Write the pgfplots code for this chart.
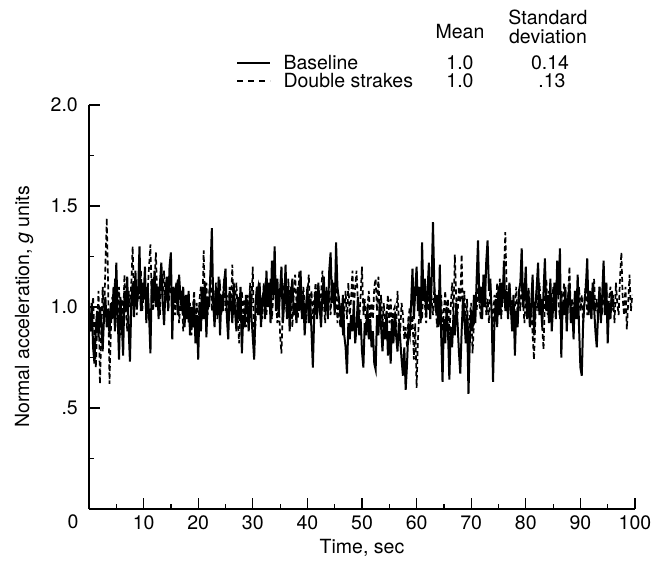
\documentclass[border=0pt]{standalone}
\usepackage{fontspec}
\setmainfont{TeX Gyre Heros}
\usepackage{pgfplots}
\pgfplotsset{compat=1.18}
\begin{document}
\begin{tikzpicture}[x=1pt,y=1pt,font=\fontsize{19.5}{22}\selectfont]
\useasboundingbox (0,0) rectangle (666,573);
\begin{axis}[
  at={(89pt,64pt)}, anchor=south west,
  scale only axis, width=546pt, height=404pt,
  xmin=0, xmax=100, ymin=0, ymax=2.0,
  axis x line*=bottom, axis y line*=left,
  axis line style={line width=1.4pt},
  tick align=inside,
  major tick length=11pt, minor tick length=5pt,
  every tick/.style={black, line width=1.2pt},
  xtick={10,20,...,100}, minor xtick={5,15,...,95},
  ytick={0.5,1,1.5,2}, yticklabels={.5,1.0,1.5,2.0},
  minor ytick={0.25,0.75,1.25,1.75},
  /pgf/number format/assume math mode=true,
  tick label style={font=\fontsize{19.5}{22}\selectfont},
  xticklabel style={anchor=north, inner sep=0pt, yshift=-6pt},
  yticklabel style={anchor=east, inner sep=0pt, xshift=-11pt},
  label style={font=\fontsize{19.5}{22}\selectfont},
  xlabel={Time, sec},
  ylabel={Normal acceleration, \textit{g} units},
  every axis x label/.style={at={(axis description cs:0.5,-0.0965)}, anchor=center},
  every axis y label/.style={at={(axis description cs:-0.119,0.5)}, anchor=center, rotate=90},
  clip=false,
]
% Double strakes (dashed)
\addplot[black, line width=1.7pt, dash pattern=on 5pt off 3pt] coordinates {
(0,1.02)(0.25,0.88)(0.5,0.96)(0.75,1.05)
(1,0.84)(1.25,0.70)(1.5,0.92)(1.75,1.08)
(2,0.62)(2.25,0.86)(2.5,1.10)(2.75,0.94)
(3,1.20)(3.25,1.44)(3.5,1.12)(3.75,0.62)
(4,0.88)(4.25,1.05)(4.5,0.96)(4.75,1.14)
(5,1.00)(5.25,0.90)(5.5,1.10)(5.75,0.86)
(6,1.04)(6.25,0.94)(6.5,1.16)(6.75,0.98)
(7,0.88)(7.25,1.08)(7.5,1.00)(7.75,1.12)
(8,1.30)(8.25,1.02)(8.5,1.14)(8.75,0.96)
(9,1.10)(9.25,1.04)(9.5,1.18)(9.75,0.98)
(10,1.06)(10.25,1.12)(10.5,0.94)(10.75,1.08)
(11,1.20)(11.25,1.31)(11.5,1.02)(11.75,0.98)
(12,1.12)(12.25,1.27)(12.5,1.04)(12.75,1.10)
(13,0.96)(13.25,1.14)(13.5,1.06)(13.75,1.18)
(14,1.02)(14.25,1.10)(14.5,0.98)(14.75,1.08)
(15,1.12)(15.25,1.00)(15.5,1.06)(15.75,0.96)
(16,1.04)(16.25,1.14)(16.5,0.92)(16.75,1.02)
(17,1.08)(17.25,0.88)(17.5,1.00)(17.75,0.94)
(18,1.06)(18.25,0.92)(18.5,1.02)(18.75,0.86)
(19,0.98)(19.25,1.08)(19.5,0.90)(19.75,1.02)
(20,0.84)(20.25,1.04)(20.5,1.10)(20.75,0.94)
(21,1.28)(21.25,1.02)(21.5,1.12)(21.75,0.96)
(22,1.06)(22.25,1.16)(22.5,0.98)(22.75,1.08)
(23,1.00)(23.25,1.12)(23.5,0.94)(23.75,1.06)
(24,1.10)(24.25,0.96)(24.5,1.04)(24.75,1.14)
(25,0.98)(25.25,1.06)(25.5,0.92)(25.75,1.10)
(26,1.00)(26.25,1.21)(26.5,0.96)(26.75,1.04)
(27,1.12)(27.25,0.94)(27.5,0.82)(27.75,1.02)
(28,1.08)(28.25,0.96)(28.5,1.04)(28.75,0.90)
(29,1.06)(29.25,0.94)(29.5,1.12)(29.75,1.00)
(30,1.20)(30.25,0.77)(30.5,0.92)(30.75,1.06)
(31,1.10)(31.25,0.98)(31.5,1.04)(31.75,0.94)
(32,1.12)(32.25,1.02)(32.5,0.96)(32.75,1.08)
(33,1.00)(33.25,1.14)(33.5,0.94)(33.75,1.06)
(34,1.10)(34.25,1.02)(34.5,0.92)(34.75,1.04)
(35,0.86)(35.25,0.77)(35.5,1.00)(35.75,1.12)
(36,1.04)(36.25,0.96)(36.5,1.14)(36.75,1.00)
(37,1.10)(37.25,0.90)(37.5,1.06)(37.75,1.16)
(38,1.02)(38.25,0.94)(38.5,1.18)(38.75,1.08)
(39,0.96)(39.25,1.10)(39.5,1.02)(39.75,0.92)
(40,1.06)(40.25,1.16)(40.5,0.98)(40.75,1.08)
(41,0.94)(41.25,1.04)(41.5,1.12)(41.75,1.00)
(42,1.10)(42.25,0.96)(42.5,1.06)(42.75,1.18)
(43,1.02)(43.25,0.92)(43.5,1.10)(43.75,1.00)
(44,1.08)(44.25,0.96)(44.5,1.14)(44.75,1.04)
(45,1.00)(45.25,1.10)(45.5,0.92)(45.75,1.06)
(46,0.90)(46.25,1.02)(46.5,0.86)(46.75,0.98)
(47,1.08)(47.25,0.94)(47.5,1.12)(47.75,0.96)
(48,1.04)(48.25,1.18)(48.5,0.98)(48.75,1.10)
(49,1.18)(49.25,1.02)(49.5,0.94)(49.75,1.06)
(50,1.20)(50.25,0.96)(50.5,1.04)(50.75,0.90)
(51,1.00)(51.25,1.08)(51.5,0.92)(51.75,1.02)
(52,0.94)(52.25,1.10)(52.5,1.14)(52.75,0.98)
(53,1.15)(53.25,0.96)(53.5,1.06)(53.75,0.90)
(54,1.02)(54.25,0.88)(54.5,0.96)(54.75,1.06)
(55,0.92)(55.25,1.04)(55.5,0.86)(55.75,0.98)
(56,1.00)(56.25,0.90)(56.5,1.08)(56.75,0.94)
(57,0.88)(57.25,1.02)(57.5,0.96)(57.75,0.84)
(58,0.90)(58.25,0.80)(58.5,0.94)(58.75,1.00)
(59,0.88)(59.25,0.96)(59.5,0.74)(59.75,0.92)
(60,0.60)(60.25,0.84)(60.5,0.98)(60.75,1.06)
(61,0.94)(61.25,1.10)(61.5,1.02)(61.75,0.92)
(62,1.08)(62.25,0.98)(62.5,1.14)(62.75,1.04)
(63,0.96)(63.25,1.10)(63.5,1.00)(63.75,0.90)
(64,1.02)(64.25,0.92)(64.5,1.06)(64.75,0.88)
(65,0.98)(65.25,1.08)(65.5,0.90)(65.75,1.04)
(66,0.86)(66.25,1.00)(66.5,1.12)(66.75,0.94)
(67,1.26)(67.25,1.04)(67.5,0.96)(67.75,1.10)
(68,1.02)(68.25,1.26)(68.5,0.94)(68.75,1.08)
(69,0.90)(69.25,1.04)(69.5,0.84)(69.75,0.96)
(70,1.02)(70.25,0.77)(70.5,0.92)(70.75,1.06)
(71,0.98)(71.25,1.10)(71.5,1.02)(71.75,0.94)
(72,1.08)(72.25,1.00)(72.5,1.16)(72.75,0.96)
(73,1.04)(73.25,0.92)(73.5,1.10)(73.75,1.00)
(74,0.90)(74.25,1.06)(74.5,0.96)(74.75,1.12)
(75,1.02)(75.25,1.14)(75.5,0.94)(75.75,1.06)
(76,1.16)(76.25,1.37)(76.5,1.08)(76.75,0.98)
(77,1.12)(77.25,0.96)(77.5,1.04)(77.75,0.90)
(78,1.00)(78.25,1.10)(78.5,0.94)(78.75,1.06)
(79,0.98)(79.25,1.12)(79.5,1.02)(79.75,0.92)
(80,1.06)(80.25,0.96)(80.5,1.10)(80.75,0.90)
(81,1.00)(81.25,0.86)(81.5,0.74)(81.75,0.94)
(82,1.08)(82.25,0.98)(82.5,1.12)(82.75,1.02)
(83,0.90)(83.25,0.79)(83.5,1.04)(83.75,1.14)
(84,0.96)(84.25,1.08)(84.5,1.00)(84.75,0.92)
(85,1.10)(85.25,0.98)(85.5,1.06)(85.75,1.16)
(86,1.02)(86.25,0.94)(86.5,1.08)(86.75,0.98)
(87,1.12)(87.25,1.00)(87.5,0.92)(87.75,1.06)
(88,1.20)(88.25,0.96)(88.5,1.04)(88.75,0.90)
(89,1.08)(89.25,1.00)(89.5,0.94)(89.75,1.10)
(90,0.98)(90.25,1.06)(90.5,0.92)(90.75,1.04)
(91,1.12)(91.25,0.96)(91.5,1.08)(91.75,1.00)
(92,0.94)(92.25,1.06)(92.5,1.14)(92.75,0.98)
(93,1.04)(93.25,0.92)(93.5,1.10)(93.75,1.02)
(94,0.96)(94.25,1.08)(94.5,1.00)(94.75,1.12)
(95,0.94)(95.25,1.04)(95.5,1.10)(95.75,0.98)
(96,1.06)(96.25,0.92)(96.5,1.12)(96.75,1.02)
(97,0.96)(97.25,1.14)(97.5,1.27)(97.75,1.04)
(98,0.96)(98.25,1.10)(98.5,0.89)(98.75,1.02)
(99,1.16)(99.25,0.98)(99.5,1.06)
};
% Baseline (solid)
\addplot[black, line width=2pt] coordinates {
(0,0.95)(0.25,0.88)(0.5,1.02)(0.75,0.80)
(1,0.72)(1.25,0.90)(1.5,0.98)(1.75,0.85)
(2,1.00)(2.25,0.92)(2.5,0.78)(2.75,0.95)
(3,1.05)(3.25,0.90)(3.5,0.99)(3.75,0.86)
(4,1.02)(4.25,0.94)(4.5,1.10)(4.75,0.88)
(5,1.22)(5.25,0.96)(5.5,0.74)(5.75,1.05)
(6,0.92)(6.25,0.76)(6.5,1.08)(6.75,0.98)
(7,1.15)(7.25,0.90)(7.5,0.73)(7.75,1.02)
(8,1.12)(8.25,0.95)(8.5,1.18)(8.75,1.00)
(9,1.08)(9.25,1.30)(9.5,0.98)(9.75,1.12)
(10,1.04)(10.25,1.20)(10.5,0.92)(10.75,1.10)
(11,0.96)(11.25,0.77)(11.5,1.14)(11.75,1.02)
(12,1.18)(12.25,1.00)(12.5,1.10)(12.75,0.94)
(13,1.12)(13.25,1.22)(13.5,1.03)(13.75,0.91)
(14,1.08)(14.25,1.15)(14.5,0.98)(14.75,1.20)
(15,1.27)(15.25,0.84)(15.5,1.10)(15.75,1.02)
(16,1.12)(16.25,0.96)(16.5,1.16)(16.75,1.05)
(17,0.98)(17.25,1.10)(17.5,0.90)(17.75,1.06)
(18,0.94)(18.25,1.08)(18.5,0.86)(18.75,1.00)
(19,0.90)(19.25,1.04)(19.5,0.82)(19.75,0.96)
(20,0.74)(20.25,1.02)(20.5,0.88)(20.75,1.10)
(21,0.94)(21.25,1.12)(21.5,0.85)(21.75,1.05)
(22,1.00)(22.25,1.18)(22.5,1.39)(22.75,1.02)
(23,0.90)(23.25,1.10)(23.5,0.96)(23.75,1.15)
(24,0.86)(24.25,1.06)(24.5,0.98)(24.75,1.12)
(25,1.19)(25.25,0.95)(25.5,0.84)(25.75,1.08)
(26,1.02)(26.25,0.92)(26.5,1.12)(26.75,0.98)
(27,0.88)(27.25,1.05)(27.5,0.94)(27.75,1.10)
(28,0.77)(28.25,0.96)(28.5,0.90)(28.75,1.06)
(29,1.00)(29.25,0.88)(29.5,1.08)(29.75,0.95)
(30,0.85)(30.25,0.74)(30.5,1.02)(30.75,1.10)
(31,0.96)(31.25,1.12)(31.5,0.90)(31.75,1.04)
(32,1.08)(32.25,0.94)(32.5,1.18)(32.75,1.00)
(33,1.12)(33.25,0.92)(33.5,1.23)(33.75,1.06)
(34,1.30)(34.25,0.98)(34.5,1.14)(34.75,0.96)
(35,1.08)(35.25,1.20)(35.5,0.92)(35.75,1.02)
(36,1.21)(36.25,0.94)(36.5,1.10)(36.75,0.88)
(37,1.06)(37.25,1.14)(37.5,0.96)(37.75,1.02)
(38,0.92)(38.25,1.10)(38.5,0.98)(38.75,1.18)
(39,0.94)(39.25,1.06)(39.5,0.86)(39.75,1.00)
(40,1.10)(40.25,0.92)(40.5,1.04)(40.75,0.88)
(41,0.70)(41.25,0.96)(41.5,1.08)(41.75,0.94)
(42,1.12)(42.25,1.00)(42.5,0.90)(42.75,1.06)
(43,1.15)(43.25,0.98)(43.5,1.08)(43.75,0.94)
(44,1.18)(44.25,1.27)(44.5,1.02)(44.75,1.12)
(45,0.96)(45.25,1.32)(45.5,1.10)(45.75,1.04)
(46,0.98)(46.25,0.90)(46.5,1.06)(46.75,0.86)
(47,0.80)(47.25,0.67)(47.5,0.92)(47.75,0.84)
(48,0.96)(48.25,0.88)(48.5,1.02)(48.75,0.82)
(49,0.90)(49.25,1.05)(49.5,0.86)(49.75,0.94)
(50,0.78)(50.25,0.70)(50.5,0.92)(50.75,0.86)
(51,1.00)(51.25,0.84)(51.5,0.94)(51.75,0.80)
(52,0.88)(52.25,0.72)(52.5,0.69)(52.75,0.96)
(53,0.86)(53.25,1.02)(53.5,0.90)(53.75,0.78)
(54,0.92)(54.25,0.84)(54.5,0.98)(54.75,0.76)
(55,0.88)(55.25,0.72)(55.5,0.94)(55.75,0.82)
(56,0.96)(56.25,0.86)(56.5,0.78)(56.75,0.92)
(57,0.84)(57.25,0.74)(57.5,0.66)(57.75,0.80)
(58,0.59)(58.25,0.72)(58.5,0.90)(58.75,0.86)
(59,1.02)(59.25,1.19)(59.5,0.94)(59.75,1.08)
(60,1.20)(60.25,0.98)(60.5,1.10)(60.75,0.92)
(61,1.32)(61.25,1.05)(61.5,1.14)(61.75,0.96)
(62,1.08)(62.25,1.22)(62.5,0.94)(62.75,1.12)
(63,1.42)(63.25,1.10)(63.5,0.98)(63.75,1.06)
(64,0.90)(64.25,1.21)(64.5,0.86)(64.75,0.63)
(65,0.94)(65.25,0.82)(65.5,1.00)(65.75,0.88)
(66,0.64)(66.25,0.90)(66.5,0.80)(66.75,0.96)
(67,0.86)(67.25,1.02)(67.5,0.92)(67.75,0.78)
(68,0.67)(68.25,0.88)(68.5,1.04)(68.75,0.94)
(69,0.82)(69.25,0.96)(69.5,0.57)(69.75,0.84)
(70,0.98)(70.25,0.88)(70.5,1.06)(70.75,0.92)
(71,1.14)(71.25,1.33)(71.5,1.02)(71.75,1.10)
(72,0.94)(72.25,1.16)(72.5,1.00)(72.75,1.22)
(73,1.33)(73.25,1.08)(73.5,1.14)(73.75,0.96)
(74,0.63)(74.25,0.92)(74.5,1.04)(74.75,0.90)
(75,1.10)(75.25,0.96)(75.5,1.12)(75.75,1.02)
(76,1.23)(76.25,0.98)(76.5,1.08)(76.75,0.94)
(77,1.12)(77.25,1.00)(77.5,0.88)(77.75,1.06)
(78,0.76)(78.25,0.98)(78.5,0.90)(78.75,1.08)
(79,1.12)(79.25,1.29)(79.5,1.00)(79.75,1.06)
(80,1.20)(80.25,0.94)(80.5,1.08)(80.75,0.90)
(81,1.02)(81.25,1.16)(81.5,0.86)(81.75,1.00)
(82,1.10)(82.25,1.22)(82.5,0.96)(82.75,1.04)
(83,0.90)(83.25,1.08)(83.5,1.24)(83.75,0.98)
(84,1.06)(84.25,0.92)(84.5,1.14)(84.75,0.88)
(85,1.00)(85.25,1.12)(85.5,0.94)(85.75,1.23)
(86,1.06)(86.25,1.29)(86.5,0.75)(86.75,1.02)
(87,0.96)(87.25,1.10)(87.5,0.88)(87.75,1.04)
(88,1.12)(88.25,0.92)(88.5,1.00)(88.75,0.84)
(89,1.08)(89.25,0.94)(89.5,1.16)(89.75,0.90)
(90,0.70)(90.25,0.66)(90.5,0.92)(90.75,1.02)
(91,1.10)(91.25,1.24)(91.5,0.96)(91.75,1.08)
(92,0.94)(92.25,1.12)(92.5,1.00)(92.75,0.88)
(93,0.80)(93.25,0.98)(93.5,1.10)(93.75,0.92)
(94,1.06)(94.25,1.23)(94.5,0.96)(94.75,1.12)
(95,0.82)(95.25,1.02)(95.5,0.94)(95.75,1.08)
(96,1.00)
};
\end{axis}
% "0" at the origin of the time axis
\node at (73,51) {0};
% legend table
\node at (460,541) {Mean};
\node at (548,556) {Standard};
\node at (548,536) {deviation};
\draw[black, line width=1.2pt] (237,510) -- (270,510);
\node[anchor=west] at (280,510) {Baseline};
\node at (460,510) {1.0};
\node at (550,510) {0.14};
\draw[black, line width=1.2pt, dash pattern=on 6pt off 5pt] (237,492) -- (270,492);
\node[anchor=west] at (280,492) {Double strakes};
\node at (460,492) {1.0};
\node at (552,492) {.13};
\end{tikzpicture}
\end{document}
